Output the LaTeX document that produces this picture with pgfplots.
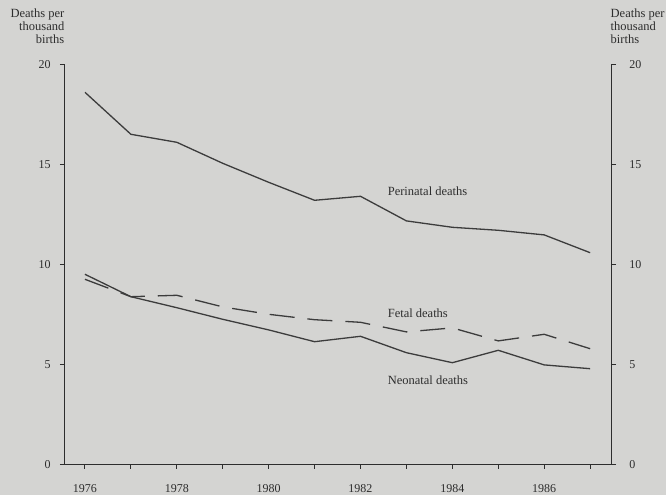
\documentclass[border=0pt]{standalone}
\usepackage{pgfplots}
\pgfplotsset{compat=1.18}
\usepackage{fontspec}
\setmainfont{Liberation Serif}
\definecolor{bg}{RGB}{212,212,210}
\definecolor{ink}{RGB}{45,45,45}
\definecolor{lineink}{RGB}{60,60,60}

\pgfplotstableread{
year perinatal fetal neonatal
1976 18.6 9.25 9.5
1977 16.5 8.38 8.38
1978 16.1 8.45 7.83
1979 15.05 7.87 7.25
1980 14.1 7.5 6.72
1981 13.2 7.23 6.13
1982 13.4 7.1 6.4
1983 12.17 6.62 5.58
1984 11.85 6.82 5.08
1985 11.7 6.17 5.7
1986 11.47 6.5 4.97
1987 10.58 5.78 4.78
}\datatable

\begin{document}
\begin{tikzpicture}
\fill[bg] (0pt,0pt) rectangle (666pt,495pt);
\useasboundingbox (0pt,0pt) rectangle (666pt,495pt);
\pgfplotsset{
  common/.style={
    at={(64.3pt,30.7pt)}, anchor=south west,
    scale only axis, width=547.4pt, height=400pt,
    xmin=1975.55, xmax=1987.47, ymin=0, ymax=20,
    ytick={0,5,10,15,20},
    tick align=outside, major tick length=4.5pt,
    tick style={ink, line width=1pt},
    axis line style={ink, line width=1.1pt, -},
    /pgf/number format/assume math mode=true,
    tick label style={text=ink, font=\fontsize{12}{13}\selectfont},
  }
}
\begin{axis}[common,
  axis x line*=bottom, axis y line*=left,
  xtick={1976,...,1987},
  xticklabels={1976,,1978,,1980,,1982,,1984,,1986,},
  xticklabel style={anchor=center, yshift=-20pt},
  yticklabel style={anchor=east, inner sep=0pt, xshift=-9pt},
]
\addplot[lineink, line width=1.3pt] table[x=year, y=perinatal] {\datatable};
\addplot[lineink, line width=1.3pt, dash pattern=on 25pt off 13pt] table[x=year, y=fetal] {\datatable};
\addplot[lineink, line width=1.3pt] table[x=year, y=neonatal] {\datatable};
\node[anchor=west, inner sep=0pt, text=ink, font=\fontsize{12.5}{13}\selectfont] at (axis cs:1982.59,13.67) {Perinatal deaths};
\node[anchor=west, inner sep=0pt, text=ink, font=\fontsize{12.5}{13}\selectfont] at (axis cs:1982.59,7.55) {Fetal deaths};
\node[anchor=west, inner sep=0pt, text=ink, font=\fontsize{12.5}{13}\selectfont] at (axis cs:1982.59,4.2) {Neonatal deaths};
\end{axis}
\begin{axis}[common,
  axis x line=none, axis y line*=right,
  xtick=\empty,
  yticklabel style={anchor=west, inner sep=0pt, xshift=13pt},
]
\addplot[draw=none] coordinates {(1976,0)};
\end{axis}
\node[anchor=north east, align=right, inner sep=0pt, text=ink, font=\fontsize{12.5}{13}\selectfont] at (64.5pt,486pt) {Deaths per\\thousand\\births};
\node[anchor=north west, align=left, inner sep=0pt, text=ink, font=\fontsize{12.5}{13}\selectfont] at (610.5pt,486pt) {Deaths per\\thousand\\births};
\end{tikzpicture}
\end{document}
